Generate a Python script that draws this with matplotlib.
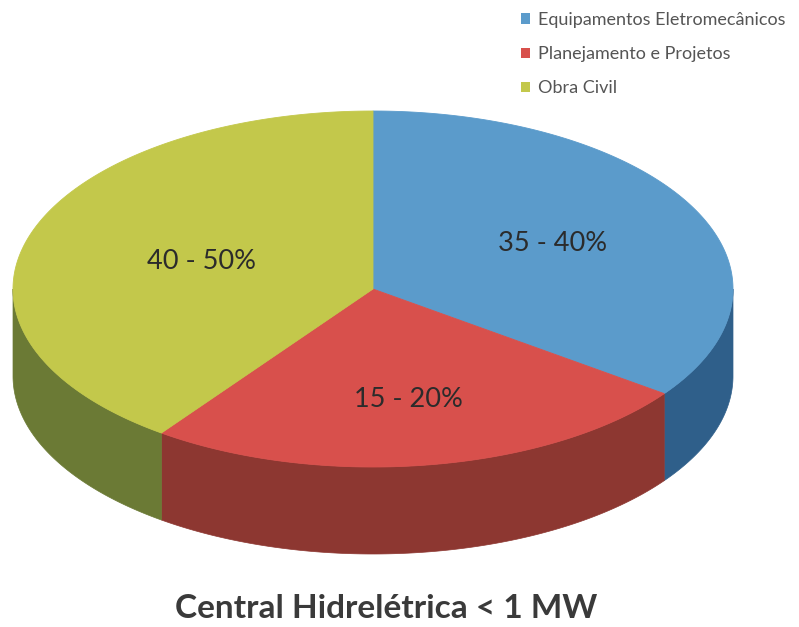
import numpy as np
import matplotlib
matplotlib.use('Agg')
import matplotlib.pyplot as plt
from matplotlib.patches import Patch

# cost shares of a small hydro plant (< 1 MW)
categories = ['Equipamentos Eletromecânicos', 'Planejamento e Projetos', 'Obra Civil']
shares = [35, 25, 40]
share_labels = ['35 - 40%', '15 - 20%', '40 - 50%']
title = 'Central Hidrelétrica < 1 MW'

top_colors = ['#5b9bcb', '#d8504c', '#c3c84b']
side_colors = ['#2f5f8a', '#8d3731', '#6b7a35']

# pie geometry, in pixels (y grows downwards)
CX, CY = 373, 289
RX, RY = 360, 178
DEPTH = 87
LABEL_R = [0.56, 0.63, 0.50]

plt.rcParams['font.family'] = ['Lato', 'DejaVu Sans']

fig = plt.figure(figsize=(7.99, 6.27), dpi=100)
ax = fig.add_axes([0, 0, 1, 1])
ax.set_xlim(0, 799)
ax.set_ylim(627, 0)
ax.axis('off')


def arc(a0, a1, n=200):
    t = np.radians(np.linspace(a0, a1, n))
    return CX + RX * np.cos(t), CY - RY * np.sin(t)


fracs = np.array(shares, dtype=float) / sum(shares)
bounds = 90 - 360 * np.concatenate([[0], np.cumsum(fracs)])

# outer walls: only the front half (-180..0 deg) shows
for i in range(len(shares)):
    hi, lo = bounds[i], bounds[i + 1]
    lo_v, hi_v = max(lo, -180), min(hi, 0)
    if hi_v <= lo_v:
        continue
    xs, ys = arc(lo_v, hi_v)
    px = np.concatenate([xs, xs[::-1]])
    py = np.concatenate([ys, ys[::-1] + DEPTH])
    ax.fill(px, py, color=side_colors[i], lw=0.5, ec=side_colors[i])

# top faces
for i in range(len(shares)):
    hi, lo = bounds[i], bounds[i + 1]
    xs, ys = arc(lo, hi)
    px = np.concatenate([[CX], xs, [CX]])
    py = np.concatenate([[CY], ys, [CY]])
    ax.fill(px, py, color=top_colors[i], lw=0.6, ec=top_colors[i])

    mid = np.radians((hi + lo) / 2)
    lx = CX + LABEL_R[i] * RX * np.cos(mid)
    ly = CY - LABEL_R[i] * RY * np.sin(mid)
    ax.text(lx, ly, share_labels[i], ha='center', va='center',
            fontsize=19.5, color='#2b2b2b')

ax.text(386, 609, title, ha='center', va='center', fontsize=24,
        fontweight='bold', color='#3a3a3a')

handles = [Patch(facecolor=c, edgecolor='none') for c in top_colors]
fig.legend(handles, categories, loc='upper left',
           bbox_to_anchor=(512 / 799, 1 - 3 / 627), frameon=False,
           fontsize=13, labelcolor='#555555', handlelength=0.5,
           handleheight=0.5, handletextpad=0.45, labelspacing=1.0,
           borderpad=0)

fig.savefig('out.png', dpi=100, facecolor='white')
